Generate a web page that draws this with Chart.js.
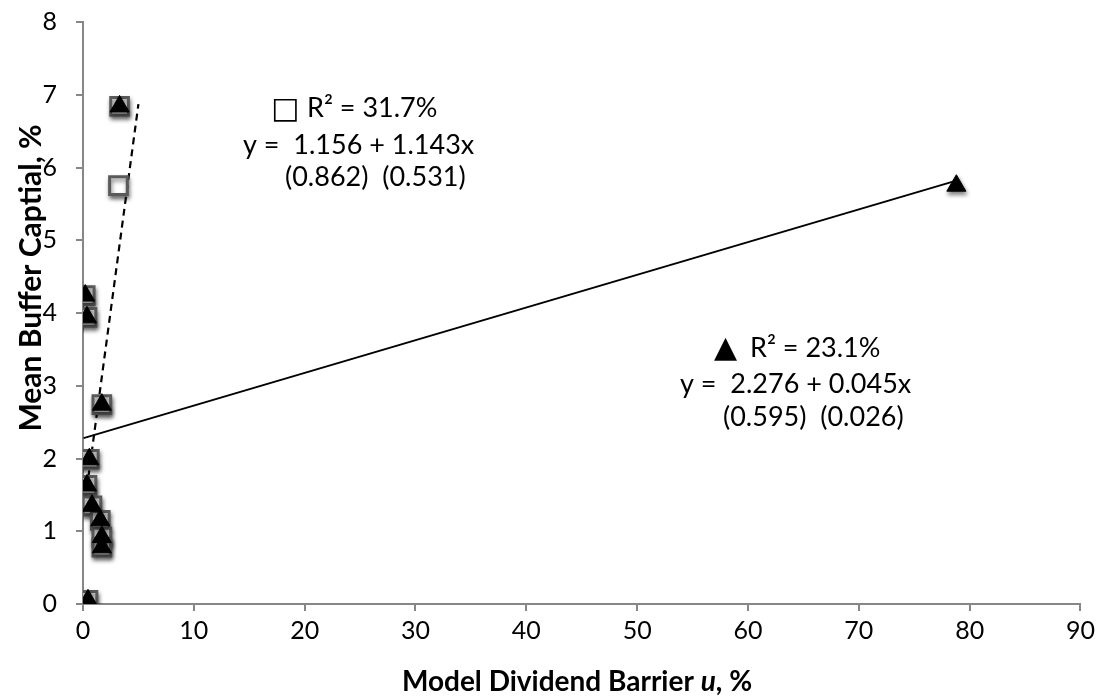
<!DOCTYPE html>
<html>
<head>
<meta charset="utf-8">
<script src="https://cdn.jsdelivr.net/npm/chart.js@4.4.1/dist/chart.umd.min.js"></script>
<style>
  html, body { margin: 0; padding: 0; background: #ffffff; }
  #wrap { width: 1100px; height: 700px; position: relative; }
</style>
</head>
<body>
<div id="wrap"><canvas id="c" width="1100" height="700"></canvas></div>
<script>
// ---- data ----
const squareX   = [3.3, 3.2, 0.2, 0.36, 1.7, 0.57, 0.36, 0.81, 1.56, 1.7, 1.7, 0.45];
const squareY   = [6.84, 5.75, 4.24, 3.94, 2.74, 1.99, 1.63, 1.35, 1.15, 0.92, 0.78, 0.05];
const triangleX = [3.3, 78.8, 0.2, 0.36, 1.7, 0.57, 0.36, 0.81, 1.56, 1.7, 1.7, 0.45];
const triangleY = [6.84, 5.75, 4.24, 3.94, 2.74, 1.99, 1.63, 1.35, 1.15, 0.92, 0.78, 0.05];
const squareTrendX   = [0.05, 5.0];
const squareTrendY   = [1.25, 6.87];
const triangleTrendX = [0.05, 78.8];
const triangleTrendY = [2.28, 5.82];
const xTicks = [0, 10, 20, 30, 40, 50, 60, 70, 80, 90];
const yTicks = [0, 1, 2, 3, 4, 5, 6, 7, 8];
const yTitle = 'Mean Buffer Captial, %';
const xTitleParts = ['Model Dividend Barrier ', 'u', ', %'];
const squareSymbol = '\u25A1';
const triangleSymbol = '\u25B2';
const squareNote   = ['R\u00B2 = 31.7%', 'y =  1.156 + 1.143x', '(0.862)  (0.531)'];
const triangleNote = ['R\u00B2 = 23.1%', 'y =  2.276 + 0.045x', '(0.595)  (0.026)'];

const pts = (xs, ys) => xs.map((x, i) => ({ x: x, y: ys[i] }));
const FONT = 'Lato, "Open Sans", "DejaVu Sans", sans-serif';

const shadowPlugin = {
  id: 'shadow',
  beforeDatasetDraw(chart, args) {
    const ds = chart.data.datasets[args.index];
    if (ds.markerShadow) {
      const ctx = chart.ctx;
      ctx.save();
      ctx.shadowColor = 'rgba(0,0,0,0.5)';
      ctx.shadowBlur = 4;
      ctx.shadowOffsetX = 1;
      ctx.shadowOffsetY = 3;
    }
  },
  afterDatasetDraw(chart, args) {
    const ds = chart.data.datasets[args.index];
    if (ds.markerShadow) chart.ctx.restore();
  }
};

const textPlugin = {
  id: 'texts',
  afterDraw(chart) {
    const ctx = chart.ctx;
    ctx.save();
    ctx.fillStyle = '#000';
    ctx.textBaseline = 'alphabetic';
    ctx.textAlign = 'left';
    // symbols
    ctx.font = '30px "DejaVu Sans", sans-serif';
    ctx.fillText(squareSymbol, 271, 118);
    ctx.fillText(triangleSymbol, 714, 357);
    // notes
    ctx.font = '27px ' + FONT;
    const n1 = [[307, 117], [243, 154], [285, 186]];
    squareNote.forEach((t, i) => ctx.fillText(t, n1[i][0], n1[i][1]));
    const n2 = [[750, 357], [680, 393], [723, 426]];
    triangleNote.forEach((t, i) => ctx.fillText(t, n2[i][0], n2[i][1]));
    // y title
    ctx.font = 'bold 30px ' + FONT;
    ctx.textAlign = 'center';
    ctx.save();
    ctx.translate(41, 278);
    ctx.rotate(-Math.PI / 2);
    ctx.fillText(yTitle, 0, 0);
    ctx.restore();
    // x title with italic u
    const fonts = ['bold 28px ' + FONT, 'italic bold 28px ' + FONT, 'bold 28px ' + FONT];
    let total = 0;
    const widths = xTitleParts.map((p, i) => { ctx.font = fonts[i]; const w = ctx.measureText(p).width; total += w; return w; });
    let x = 577 - total / 2;
    ctx.textAlign = 'left';
    xTitleParts.forEach((p, i) => { ctx.font = fonts[i]; ctx.fillText(p, x, 691); x += widths[i]; });
    ctx.restore();
  }
};

new Chart(document.getElementById('c'), {
  type: 'scatter',
  data: {
    datasets: [
      {
        label: 'triangle trend',
        data: pts(triangleTrendX, triangleTrendY),
        showLine: true,
        borderColor: '#000',
        borderWidth: 2,
        pointRadius: 0,
        order: 2
      },
      {
        label: 'square trend',
        data: pts(squareTrendX, squareTrendY),
        showLine: true,
        borderColor: '#000',
        borderWidth: 2.2,
        borderDash: [7, 5],
        pointRadius: 0,
        order: 3
      },
      {
        label: 'squares',
        data: pts(squareX, squareY),
        pointStyle: 'rect',
        pointRadius: 12.5,
        pointHoverRadius: 12.5,
        backgroundColor: '#ffffff',
        borderColor: '#5a5a5a',
        borderWidth: 3,
        markerShadow: true,
        order: 1
      },
      {
        label: 'triangles',
        data: pts(triangleX, triangleY),
        pointStyle: 'triangle',
        pointRadius: 11,
        pointHoverRadius: 11,
        backgroundColor: '#000000',
        borderColor: '#000000',
        borderWidth: 1,
        markerShadow: true,
        order: 0
      }
    ]
  },
  options: {
    responsive: false,
    animation: false,
    layout: { padding: { top: 0, right: 17, left: 0, bottom: 0 } },
    plugins: { legend: { display: false }, tooltip: { enabled: false } },
    scales: {
      x: {
        type: 'linear',
        min: 0, max: 90,
        afterBuildTicks: (s) => { s.ticks = xTicks.map(v => ({ value: v })); },
        afterFit: (s) => { s.height = 96; },
        border: { display: true, color: '#878787', width: 2 },
        grid: { drawOnChartArea: false, drawTicks: true, tickLength: 7, color: '#878787', lineWidth: 2 },
        ticks: { color: '#000', font: { family: FONT, size: 25 }, padding: 5 }
      },
      y: {
        type: 'linear',
        min: 0, max: 8,
        afterBuildTicks: (s) => { s.ticks = yTicks.map(v => ({ value: v })); },
        afterFit: (s) => { s.width = 83; s.paddingTop = 22; s.paddingBottom = 0; },
        border: { display: true, color: '#878787', width: 2 },
        grid: { drawOnChartArea: false, drawTicks: true, tickLength: 7, color: '#878787', lineWidth: 2 },
        ticks: { color: '#000', font: { family: FONT, size: 25 }, padding: 19 }
      }
    }
  },
  plugins: [shadowPlugin, textPlugin]
});
</script>
</body>
</html>
